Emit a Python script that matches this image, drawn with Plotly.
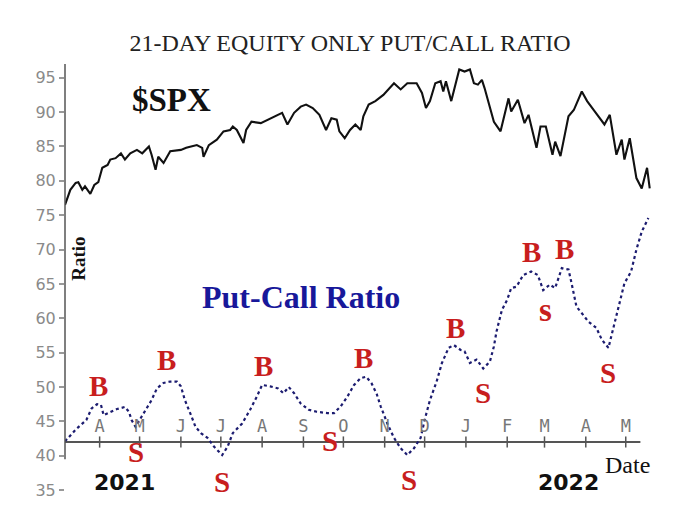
import plotly.graph_objects as go

# ---- data (chart units) ----
spx_dates = ["2021-03-06","2021-03-10","2021-03-14","2021-03-16","2021-03-19","2021-03-21","2021-03-25","2021-03-28","2021-03-31","2021-04-03",
             "2021-04-07","2021-04-09","2021-04-13","2021-04-17","2021-04-20","2021-04-24","2021-04-29","2021-05-03","2021-05-08","2021-05-10",
             "2021-05-13","2021-05-15","2021-05-19","2021-05-24","2021-06-01","2021-06-05","2021-06-13","2021-06-17","2021-06-18","2021-06-22",
             "2021-06-28","2021-07-03","2021-07-08","2021-07-10","2021-07-13","2021-07-18","2021-07-20","2021-07-24","2021-07-31","2021-08-05",
             "2021-08-11","2021-08-16","2021-08-20","2021-08-25","2021-08-30","2021-09-03","2021-09-08","2021-09-13","2021-09-18","2021-09-22",
             "2021-09-26","2021-09-28","2021-10-02","2021-10-06","2021-10-10","2021-10-14","2021-10-16","2021-10-20","2021-10-25","2021-10-31",
             "2021-11-08","2021-11-13","2021-11-18","2021-11-25","2021-11-29","2021-12-02","2021-12-05","2021-12-09","2021-12-13","2021-12-15",
             "2021-12-17","2021-12-21","2021-12-27","2021-12-31","2022-01-04","2022-01-07","2022-01-10","2022-01-13","2022-01-15","2022-01-22",
             "2022-01-27","2022-01-31","2022-02-02","2022-02-04","2022-02-09","2022-02-14","2022-02-17","2022-02-23","2022-02-26","2022-03-02",
             "2022-03-07","2022-03-09","2022-03-13","2022-03-19","2022-03-23","2022-03-29","2022-04-02","2022-04-07","2022-04-12","2022-04-15",
             "2022-04-19","2022-04-24","2022-04-28","2022-04-30","2022-05-04","2022-05-09","2022-05-13","2022-05-17","2022-05-19"]
spx_level = [76.5,78.7,79.7,79.8,78.7,79.2,78.1,79.4,79.8,81.9,
             82.3,83.1,83.3,84.0,83.1,84.0,84.5,84.0,85.0,83.8,
             81.6,83.5,82.6,84.3,84.5,84.8,85.2,84.8,83.5,85.2,
             86.0,87.2,87.4,87.9,87.4,85.5,87.4,88.6,88.4,88.9,
             89.4,89.9,88.2,89.9,90.8,91.1,90.6,89.6,87.4,89.1,
             88.9,87.2,86.2,87.4,88.2,87.4,89.4,91.1,91.6,92.5,
             94.2,93.3,94.2,94.2,92.8,90.6,91.6,94.2,94.5,93.0,
             94.5,91.6,96.2,95.9,96.2,94.2,94.0,94.7,93.5,88.6,
             87.2,90.6,92.0,90.1,91.8,88.4,89.6,84.8,87.9,87.9,
             83.8,85.7,83.6,89.4,90.3,93.0,91.6,90.3,88.9,88.2,
             89.6,83.8,86.0,83.1,86.2,80.4,78.9,81.9,78.9]

pc_dates = ["2021-03-06","2021-03-14","2021-03-22","2021-03-26","2021-03-30","2021-04-02","2021-04-04","2021-04-09","2021-04-14","2021-04-20",
            "2021-04-23","2021-04-25","2021-04-28","2021-05-01","2021-05-06","2021-05-10","2021-05-14","2021-05-19","2021-05-24","2021-05-29",
            "2021-06-01","2021-06-04","2021-06-08","2021-06-12","2021-06-16","2021-06-21","2021-06-26","2021-06-30","2021-07-02","2021-07-06",
            "2021-07-10","2021-07-17","2021-07-23","2021-07-28","2021-08-01","2021-08-07","2021-08-13","2021-08-17","2021-08-21","2021-08-25",
            "2021-08-30","2021-09-05","2021-09-11","2021-09-19","2021-09-24","2021-09-29","2021-10-04","2021-10-09","2021-10-14","2021-10-18",
            "2021-10-22","2021-10-26","2021-10-29","2021-11-03","2021-11-08","2021-11-13","2021-11-18","2021-11-23","2021-11-28","2021-12-01",
            "2021-12-05","2021-12-10","2021-12-14","2021-12-19","2021-12-23","2021-12-28","2021-12-31","2022-01-04","2022-01-09","2022-01-14",
            "2022-01-19","2022-01-22","2022-01-24","2022-01-28","2022-02-01","2022-02-04","2022-02-08","2022-02-13","2022-02-19","2022-02-24",
            "2022-02-28","2022-03-05","2022-03-09","2022-03-14","2022-03-19","2022-03-21","2022-03-25","2022-03-30","2022-04-03","2022-04-09",
            "2022-04-13","2022-04-18","2022-04-22","2022-04-26","2022-04-30","2022-05-05","2022-05-09","2022-05-13","2022-05-18"]
pc_ratio = [42.1,43.8,45.2,46.9,47.5,47.4,45.9,46.4,46.8,47.1,
            46.4,45.2,44.2,45.2,46.7,48.1,49.8,50.6,50.8,50.8,
            50.1,48.1,46.2,44.2,43.3,42.6,41.3,40.4,40.1,41.3,
            43.3,44.7,46.7,48.6,50.3,50.1,49.8,49.1,50.0,49.1,
            47.6,46.7,46.4,46.2,46.2,47.2,48.6,50.3,51.3,51.5,
            50.6,49.0,47.2,44.7,42.6,41.1,40.1,41.1,42.6,45.2,
            48.1,50.8,53.5,55.7,56.1,55.4,55.2,53.5,54.0,52.7,
            53.7,55.9,58.1,61.2,62.7,64.4,64.6,66.3,66.8,66.3,
            64.1,64.9,64.4,67.3,67.1,65.4,61.7,60.5,59.5,58.6,
            56.9,55.7,58.8,61.7,65.1,66.8,70.0,72.6,74.6]

sig_dates = ["2021-03-31","2021-04-28","2021-05-21","2021-07-02","2021-08-02","2021-09-21","2021-10-16",
             "2021-11-19","2021-12-24","2022-01-14","2022-02-19","2022-03-02","2022-03-16","2022-04-18"]
sig_levels = [50.1,40.6,54.0,36.2,53.0,42.1,54.2,36.5,58.6,49.1,69.7,61.2,70.1,52.0]
sig_labels = ["B","S","B","S","B","S","B","S","B","S","B","s","B","S"]

month_dates = ["2021-04-01","2021-05-01","2021-06-01","2021-07-01","2021-08-01","2021-09-01","2021-10-01",
               "2021-11-01","2021-12-01","2022-01-01","2022-02-01","2022-03-01","2022-04-01","2022-05-01"]
month_labels = ["A","M","J","J","A","S","O","N","D","J","F","M","A","M"]
y_ticks = [35,40,45,50,55,60,65,70,75,80,85,90,95]
axis_level = 42
y_range = [34, 97]
x_range = ["2021-03-06", "2022-05-20 17:00"]

fig = go.Figure()

fig.add_trace(go.Scatter(x=spx_dates, y=spx_level, mode="lines",
                         line=dict(color="#111111", width=2.1), hoverinfo="skip"))
fig.add_trace(go.Scatter(x=pc_dates, y=pc_ratio, mode="lines",
                         line=dict(color="#1c1c70", width=2.2, dash="dot"), hoverinfo="skip"))
# crossing tick marks and month letters on the date axis
fig.add_trace(go.Scatter(x=month_dates, y=[axis_level]*len(month_dates), mode="markers+text",
                         marker=dict(symbol="line-ns", size=8, line=dict(color="#555555", width=1.5)),
                         text=month_labels, textposition="top center",
                         textfont=dict(family="DejaVu Sans Mono", size=17, color="#777777"),
                         hoverinfo="skip", cliponaxis=False))

# date axis line and value axis line
fig.add_shape(type="line", xref="x", yref="y", x0=x_range[0], x1="2022-05-12",
              y0=axis_level, y1=axis_level, line=dict(color="#555555", width=2), layer="below")
span = y_range[1] - y_range[0]
fig.add_shape(type="line", xref="paper", yref="paper", x0=0, x1=0,
              y0=(39.5 - y_range[0]) / span, y1=1,
              line=dict(color="#555555", width=1.5), layer="above")

red = "#c81e1e"
for d, v, t in zip(sig_dates, sig_levels, sig_labels):
    fig.add_annotation(x=d, y=v, text=t, showarrow=False,
                       font=dict(family="Liberation Serif", size=29 if t != "s" else 33,
                                 color=red, weight="bold"))

fig.add_annotation(x="2021-05-25", y=91.8, text="$SPX", showarrow=False,
                   font=dict(family="Liberation Serif", size=33, color="#111111", weight="bold"))
fig.add_annotation(x="2021-08-30", y=63.1, text="Put-Call Ratio", showarrow=False,
                   font=dict(family="Liberation Serif", size=32, color="#18189a", weight="bold"))
fig.add_annotation(x="2021-03-16", y=68.7, text="Ratio", showarrow=False, textangle=-90,
                   font=dict(family="Liberation Serif", size=19, color="#111111", weight="bold"))
fig.add_annotation(x="2021-04-20", y=36.1, text="2021", showarrow=False,
                   font=dict(family="DejaVu Sans", size=22, color="#111111", weight="bold"))
fig.add_annotation(x="2022-03-19", y=36.1, text="2022", showarrow=False,
                   font=dict(family="DejaVu Sans", size=22, color="#111111", weight="bold"))
fig.add_annotation(x="2022-05-02", y=38.6, text="Date", showarrow=False,
                   font=dict(family="Liberation Serif", size=24, color="#111111"))

fig.update_layout(
    width=700, height=528,
    margin=dict(l=65, r=48, t=64, b=31, autoexpand=False),
    paper_bgcolor="white", plot_bgcolor="white",
    showlegend=False, hovermode=False,
    title=dict(text="21-DAY EQUITY ONLY PUT/CALL RATIO", x=0.5, xanchor="center",
               y=1 - 43/528, yanchor="middle", yref="container", automargin=False,
               font=dict(family="Liberation Serif", size=24, color="#222222")),
    xaxis=dict(type="date", range=x_range, visible=False, automargin=False),
    yaxis=dict(range=y_range, tickvals=y_ticks, ticks="outside", ticklen=5,
               tickcolor="#999999", tickwidth=1.5, automargin=False,
               tickfont=dict(family="DejaVu Sans", size=16, color="#8a8a8a"),
               showline=False, showgrid=False, zeroline=False),
)

fig.write_html("out.html", config={"displayModeBar": False},
               post_script="document.body.style.margin='0';")
